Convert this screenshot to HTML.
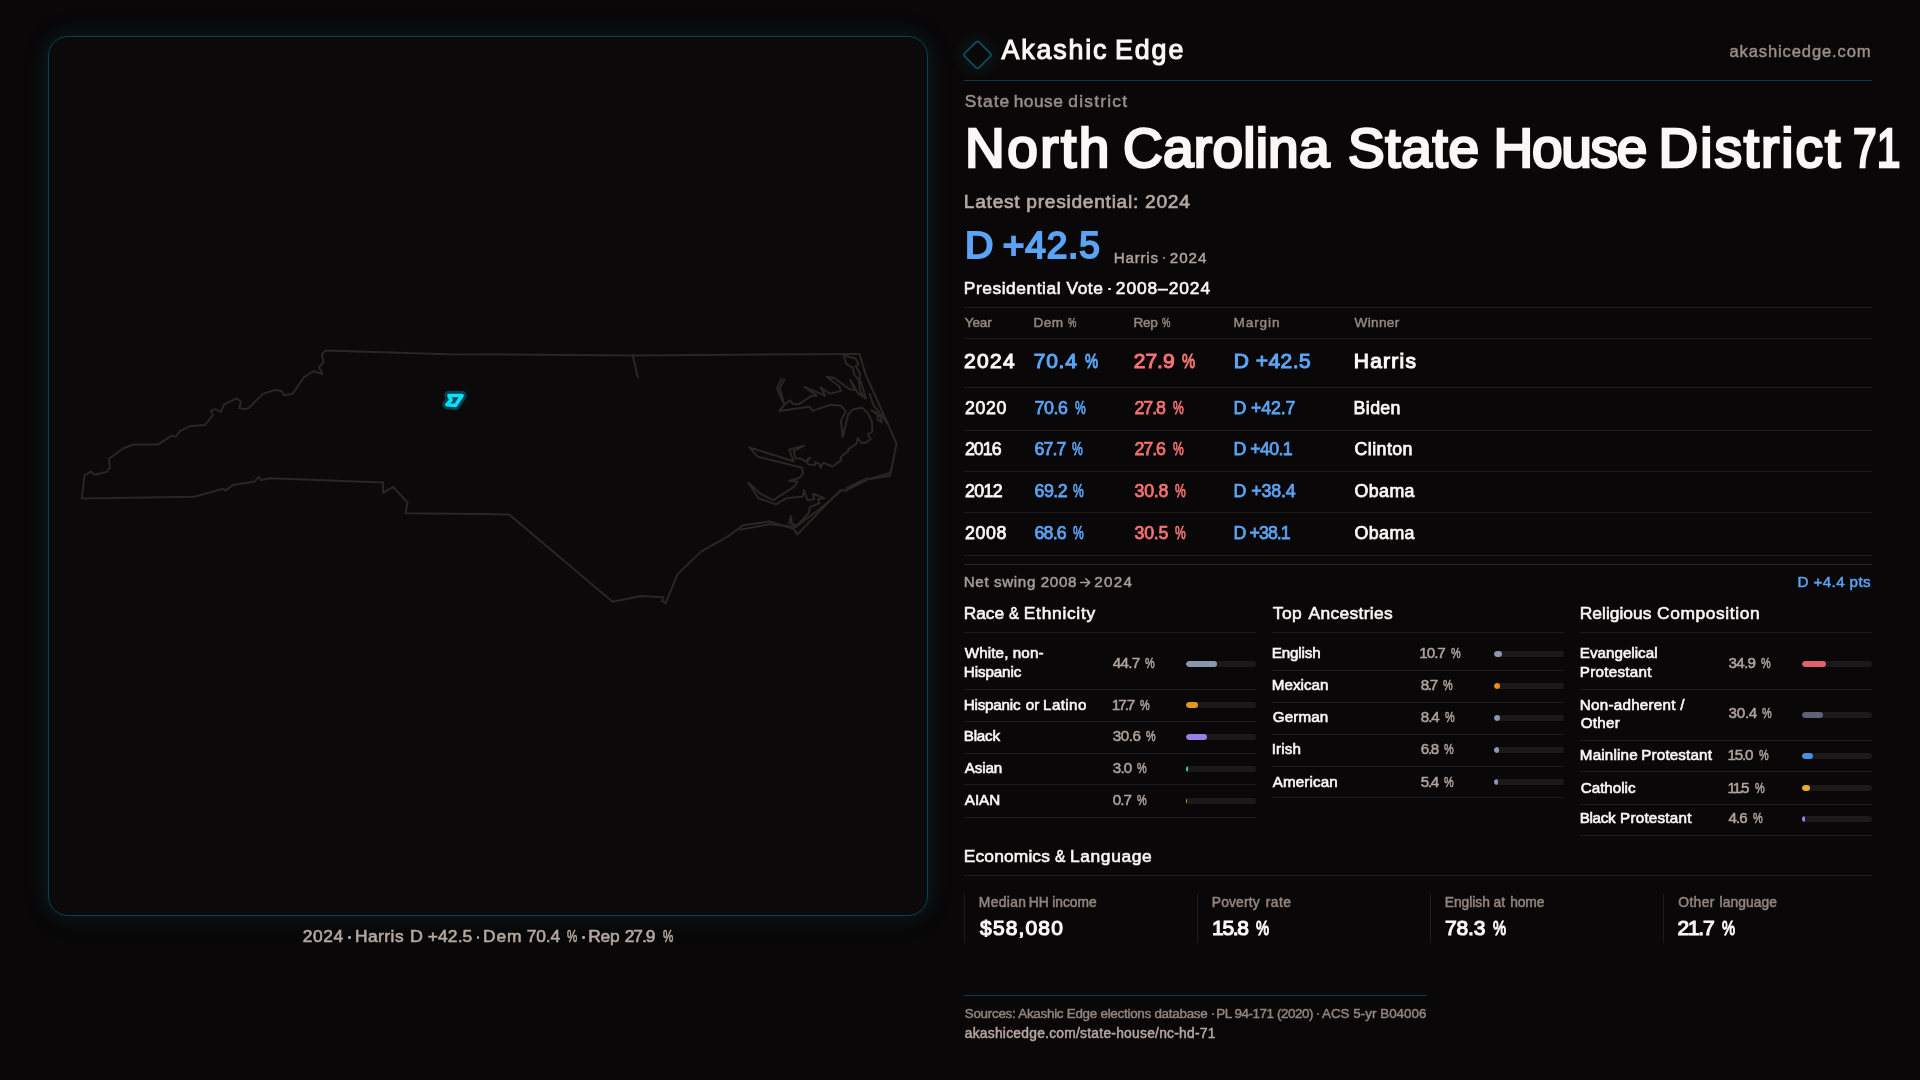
<!DOCTYPE html>
<html lang="en"><head><meta charset="utf-8"><title>North Carolina State House District 71</title>
<style>
html,body{margin:0;padding:0;}
body{width:1920px;height:1080px;overflow:hidden;background:#090708;font-family:"Liberation Sans",sans-serif;position:relative;}
.t{position:absolute;white-space:nowrap;line-height:1;font-weight:400;}
.r{position:absolute;}
.bt{position:absolute;width:70px;height:6px;border-radius:3px;background:#1b191a;overflow:hidden;}
.bf{height:6px;border-radius:3px;}
#panel{position:absolute;left:48px;top:36px;width:878px;height:878px;border:1px solid #0b4250;border-radius:20px;background:#0b090a;box-shadow:0 0 24px rgba(20,120,140,0.21);}
#tx{position:absolute;left:0;top:0;width:1920px;height:1080px;will-change:transform;}
#map{position:absolute;left:0;top:0;width:1920px;height:1080px;}
</style></head>
<body>
<div id="panel"></div>
<svg id="map" viewBox="0 0 1920 1080" width="1920" height="1080">
<path fill="none" stroke="#2a2625" stroke-width="2.0" stroke-linejoin="round" stroke-linecap="round" d="M859.4 353.9 L633.0 355.4 L447.8 354.2 L325.1 350.6 L321.9 354.7 L323.5 362.1 L319.0 367.1 L322.4 374.0 L313.9 371.2 L304.1 377.0 L292.6 393.7 L283.9 395.3 L281.6 391.2 L275.4 389.8 L262.8 393.9 L248.6 408.1 L244.5 409.3 L239.2 408.1 L241.0 401.7 L236.5 398.3 L223.9 404.5 L221.1 411.8 L215.1 409.1 L210.6 410.9 L213.1 415.2 L204.8 425.1 L189.5 426.3 L180.3 430.8 L175.7 436.6 L171.6 435.6 L157.9 444.6 L132.9 444.6 L123.0 448.5 L108.8 459.0 L110.0 468.2 L106.5 472.1 L94.4 474.8 L90.9 471.6 L84.5 475.5 L81.8 498.4 L194.1 496.8 L223.2 488.8 L225.5 490.6 L233.0 484.9 L254.8 481.5 L258.9 476.7 L261.2 480.1 L270.4 478.3 L383.1 482.4 L383.1 492.9 L393.0 486.8 L407.6 502.6 L405.6 513.3 L480.0 513.9 L509.2 514.4 L612.5 601.7 L641.1 596.1 L663.3 597.2 L661.9 600.8 L665.6 603.1 L677.8 573.9 L701.4 551.4 L727.2 536.9 L742.5 525.8 L742.8 525.2 L769.6 521.5 L793.7 528.9 L797.4 534.4 L840.0 490.4 L842.8 490.0 L845.6 490.9 L867.8 479.3"/>
<path fill="none" stroke="#2a2625" stroke-width="2.0" stroke-linejoin="round" stroke-linecap="round" d="M869.6 478.9 L890.0 476.1 L896.5 443.7 L888.1 424.3 L865.9 375.2 L859.4 353.9"/>
<path fill="none" stroke="#2a2625" stroke-width="2.0" stroke-linejoin="round" stroke-linecap="round" d="M740.0 529.8 L769.6 524.3 L795.6 527.0 L817.8 510.4 L840.0 491.9"/>
<path fill="none" stroke="#2a2625" stroke-width="2.0" stroke-linejoin="round" stroke-linecap="round" d="M846.5 488.1 L867.8 478.0"/>
<path fill="none" stroke="#2a2625" stroke-width="2.0" stroke-linejoin="round" stroke-linecap="round" d="M869.6 478.9 L890.0 473.0 L891.5 467.8"/>
<path fill="none" stroke="#2a2625" stroke-width="2.0" stroke-linejoin="round" stroke-linecap="round" d="M781.7 378.3 L777.0 388.1 L782.6 401.1 L784.4 404.8 L779.3 410.9 L809.4 406.7 L812.6 410.9 L830.7 404.8 L840.9 405.7 L845.9 411.3 L840.9 420.6 L842.8 437.2 L848.3 414.1 L853.0 409.4 L862.2 407.6 L867.8 413.1 L871.9 421.5 L872.4 431.7 L867.8 434.4 L870.6 439.1 L865.9 442.8 L861.3 442.8 L857.6 438.1 L856.7 443.7 L848.3 449.3 L848.3 451.1 L840.9 456.7 L840.9 460.4 L832.6 466.5 L823.3 462.6 L820.6 467.8 L819.6 464.1 L815.0 462.2 L815.0 465.0 L808.5 464.4 L807.0 462.2 L810.0 457.6 L804.8 461.3 L801.1 458.5 L795.6 458.5 L793.7 451.1 L803.9 445.6 L789.1 449.6 L793.7 461.3 L749.3 447.4 L757.6 456.7 L802.0 467.8 L803.0 473.3 L799.3 478.0 L789.1 480.7 L797.4 481.7 L794.6 486.3 L773.3 500.2 L760.4 493.7 L748.3 482.6 L758.5 498.3 L776.1 504.4 L786.3 498.3 L803.0 496.5 L803.9 490.0 L807.6 500.2 L814.1 499.3 L813.1 493.7 L824.3 498.3 L817.8 499.3 L819.6 503.0 L809.4 507.6 L809.4 512.2 L797.4 525.2 L791.9 524.3 L790.9 515.9 L789.1 523.3"/>
<path fill="none" stroke="#2a2625" stroke-width="2.0" stroke-linejoin="round" stroke-linecap="round" d="M784.4 379.3 L779.8 388.5 L784.4 404.8 L790.0 400.2 L792.8 403.9 L799.3 403.9 L810.4 396.5 L816.9 395.6 L804.4 386.9 L825.2 395.6 L820.6 387.2 L829.8 393.7 L840.9 390.9 L839.1 386.3 L826.7 376.7 L834.4 378.0 L849.3 389.1 L854.8 390.0 L850.2 379.8 L858.5 393.7 L865.9 398.3 L862.2 386.3 L859.4 377.0 L860.4 374.3 L855.7 365.9 L858.5 364.1 L855.7 358.5 L845.6 355.7"/>
<path fill="none" stroke="#2a2625" stroke-width="2.0" stroke-linejoin="round" stroke-linecap="round" d="M843.7 355.7 L846.5 364.1 L853.0 367.8 L853.9 374.3 L858.5 379.8 L860.4 391.9 L865.9 398.3"/>
<path fill="none" stroke="#2a2625" stroke-width="2.0" stroke-linejoin="round" stroke-linecap="round" d="M869.6 393.7 L873.3 404.8 L880.7 414.1 L888.1 424.3"/>
<path fill="none" stroke="#2a2625" stroke-width="2.0" stroke-linejoin="round" stroke-linecap="round" d="M871.5 410.4 L877.0 413.1 L878.0 419.6 L881.7 422.4 L880.7 416.9 L871.5 410.4"/>
<path fill="none" stroke="#2a2625" stroke-width="2.0" stroke-linejoin="round" stroke-linecap="round" d="M632.8 355.6 L637.8 377.2"/>
<path d="M449.0 395.5 L462.0 395.5 L455.5 405.5 L447.0 404.6 L451.0 400.0Z" fill="none" stroke="#0b3f4a" stroke-width="9.5" stroke-linejoin="round"/>
<path d="M449.0 395.5 L462.0 395.5 L455.5 405.5 L447.0 404.6 L451.0 400.0Z" fill="#0a4855" stroke="#06e2fd" stroke-width="3.7" stroke-linejoin="round"/>
<defs><radialGradient id="lg"><stop offset="0" stop-color="#16798c" stop-opacity="0.17"/><stop offset="0.45" stop-color="#16798c" stop-opacity="0.08"/><stop offset="1" stop-color="#16798c" stop-opacity="0"/></radialGradient></defs>
<circle cx="977.5" cy="54.9" r="26" fill="url(#lg)"/>
<rect x="-10.1" y="-10.1" width="20.2" height="20.2" rx="2.5" transform="translate(977.5 54.9) rotate(45)" fill="#090708" stroke="#0f4a58" stroke-width="1.9"/>
<path d="M1080.7 582.5 L1089.5 582.5 M1085.9 578.7 L1089.7 582.5 L1085.9 586.3" fill="none" stroke="#a89c96" stroke-width="1.6" stroke-linecap="round" stroke-linejoin="round"/>
</svg>
<div class="r" style="left:964px;top:80px;width:908px;height:1px;background:#083c49"></div>
<div class="r" style="left:964px;top:307px;width:908px;height:1px;background:#1e1b1c"></div>
<div class="r" style="left:964px;top:338px;width:908px;height:1px;background:#1e1b1c"></div>
<div class="r" style="left:964px;top:387px;width:908px;height:1px;background:#1e1b1c"></div>
<div class="r" style="left:964px;top:430px;width:908px;height:1px;background:#1e1b1c"></div>
<div class="r" style="left:964px;top:471px;width:908px;height:1px;background:#1e1b1c"></div>
<div class="r" style="left:964px;top:512px;width:908px;height:1px;background:#1e1b1c"></div>
<div class="r" style="left:964px;top:555px;width:908px;height:1px;background:#1e1b1c"></div>
<div class="r" style="left:964px;top:564px;width:908px;height:1px;background:#2a2728"></div>
<div class="r" style="left:964px;top:632px;width:292px;height:1px;background:#1e1b1c"></div>
<div class="r" style="left:1272px;top:632px;width:292px;height:1px;background:#1e1b1c"></div>
<div class="r" style="left:1580px;top:632px;width:292px;height:1px;background:#1e1b1c"></div>
<div class="r" style="left:964px;top:689px;width:292px;height:1px;background:#1e1b1c"></div>
<div class="r" style="left:964px;top:721px;width:292px;height:1px;background:#1e1b1c"></div>
<div class="r" style="left:964px;top:753px;width:292px;height:1px;background:#1e1b1c"></div>
<div class="r" style="left:964px;top:784px;width:292px;height:1px;background:#1e1b1c"></div>
<div class="r" style="left:964px;top:817px;width:292px;height:1px;background:#1e1b1c"></div>
<div class="r" style="left:1272px;top:670px;width:292px;height:1px;background:#1e1b1c"></div>
<div class="r" style="left:1272px;top:702px;width:292px;height:1px;background:#1e1b1c"></div>
<div class="r" style="left:1272px;top:734px;width:292px;height:1px;background:#1e1b1c"></div>
<div class="r" style="left:1272px;top:766px;width:292px;height:1px;background:#1e1b1c"></div>
<div class="r" style="left:1272px;top:797px;width:292px;height:1px;background:#1e1b1c"></div>
<div class="r" style="left:1580px;top:689px;width:292px;height:1px;background:#1e1b1c"></div>
<div class="r" style="left:1580px;top:740px;width:292px;height:1px;background:#1e1b1c"></div>
<div class="r" style="left:1580px;top:771px;width:292px;height:1px;background:#1e1b1c"></div>
<div class="r" style="left:1580px;top:804px;width:292px;height:1px;background:#1e1b1c"></div>
<div class="r" style="left:1580px;top:835px;width:292px;height:1px;background:#1e1b1c"></div>
<div class="r" style="left:964px;top:875px;width:908px;height:1px;background:#1e1b1c"></div>
<div class="r" style="left:964px;top:995px;width:463px;height:1px;background:#083c49"></div>
<div class="r" style="left:964px;top:894px;width:1px;height:49px;background:#1e1b1c"></div>
<div class="r" style="left:1197px;top:894px;width:1px;height:49px;background:#1e1b1c"></div>
<div class="r" style="left:1430px;top:894px;width:1px;height:49px;background:#1e1b1c"></div>
<div class="r" style="left:1663px;top:894px;width:1px;height:49px;background:#1e1b1c"></div>
<div class="r" style="left:1162.75px;top:257.15px;width:2.3px;height:2.3px;border-radius:50%;background:#b0a39d"></div>
<div class="r" style="left:1108.20px;top:287.50px;width:2.6px;height:2.6px;border-radius:50%;background:#faf8f6"></div>
<div class="r" style="left:1211.60px;top:1012.80px;width:2.0px;height:2.0px;border-radius:50%;background:#93867f"></div>
<div class="r" style="left:1316.60px;top:1012.80px;width:2.0px;height:2.0px;border-radius:50%;background:#93867f"></div>
<div class="r" style="left:348.10px;top:936.20px;width:2.6px;height:2.6px;border-radius:50%;background:#b5a8a2"></div>
<div class="r" style="left:476.80px;top:936.20px;width:2.6px;height:2.6px;border-radius:50%;background:#b5a8a2"></div>
<div class="r" style="left:582.00px;top:936.20px;width:2.6px;height:2.6px;border-radius:50%;background:#b5a8a2"></div>
<div class="bt" style="left:1186px;top:661px"><div class="bf" style="width:31.3px;background:#8a97ad"></div></div>
<div class="bt" style="left:1186px;top:702px"><div class="bf" style="width:12.4px;background:#e39a1c"></div></div>
<div class="bt" style="left:1186px;top:734px"><div class="bf" style="width:21.4px;background:#9a7fe6"></div></div>
<div class="bt" style="left:1186px;top:766px"><div class="bf" style="width:2.1px;background:#34d399"></div></div>
<div class="bt" style="left:1186px;top:798px"><div class="bf" style="width:1.0px;background:#e8920c"></div></div>
<div class="bt" style="left:1494px;top:651px"><div class="bf" style="width:7.5px;background:#8a97ad"></div></div>
<div class="bt" style="left:1494px;top:683px"><div class="bf" style="width:6.1px;background:#e8920c"></div></div>
<div class="bt" style="left:1494px;top:715px"><div class="bf" style="width:5.9px;background:#8a97ad"></div></div>
<div class="bt" style="left:1494px;top:747px"><div class="bf" style="width:4.8px;background:#8a97ad"></div></div>
<div class="bt" style="left:1494px;top:779px"><div class="bf" style="width:3.8px;background:#8a97ad"></div></div>
<div class="bt" style="left:1802px;top:661px"><div class="bf" style="width:24.4px;background:#e0606c"></div></div>
<div class="bt" style="left:1802px;top:712px"><div class="bf" style="width:21.3px;background:#5d6372"></div></div>
<div class="bt" style="left:1802px;top:753px"><div class="bf" style="width:10.5px;background:#4a8fe0"></div></div>
<div class="bt" style="left:1802px;top:785px"><div class="bf" style="width:8.1px;background:#e3ae22"></div></div>
<div class="bt" style="left:1802px;top:816px"><div class="bf" style="width:3.2px;background:#9a7fe6"></div></div>
<div id="tx">
<div class="t" style="left:1001.55px;top:37.00px;font-size:26.8px;color:#faf8f6;letter-spacing:1.828px;-webkit-text-stroke:1.1px #faf8f6;">Akashic</div>
<div class="t" style="left:1114.95px;top:37.00px;font-size:26.8px;color:#faf8f6;letter-spacing:1.940px;-webkit-text-stroke:1.1px #faf8f6;">Edge</div>
<div class="t" style="left:1729.47px;top:44.00px;font-size:16.6px;color:#9a8e89;letter-spacing:0.856px;-webkit-text-stroke:0.45px #9a8e89;">akashicedge.com</div>
<div class="t" style="left:964.75px;top:93.00px;font-size:17.4px;color:#9a8e89;letter-spacing:0.954px;-webkit-text-stroke:0.5px #9a8e89;">State</div>
<div class="t" style="left:1013.75px;top:93.00px;font-size:17.4px;color:#9a8e89;letter-spacing:0.447px;-webkit-text-stroke:0.5px #9a8e89;">house</div>
<div class="t" style="left:1068.25px;top:93.00px;font-size:17.4px;color:#9a8e89;letter-spacing:1.227px;-webkit-text-stroke:0.5px #9a8e89;">district</div>
<div class="t" style="left:965.00px;top:121.00px;font-size:55.0px;color:#faf8f6;letter-spacing:2.449px;-webkit-text-stroke:2.6px #faf8f6;">North</div>
<div class="t" style="left:1123.05px;top:121.00px;font-size:55.0px;color:#faf8f6;letter-spacing:0.237px;-webkit-text-stroke:2.6px #faf8f6;">Carolina</div>
<div class="t" style="left:1348.05px;top:121.00px;font-size:55.0px;color:#faf8f6;letter-spacing:0.641px;-webkit-text-stroke:2.6px #faf8f6;">State</div>
<div class="t" style="left:1493.55px;top:121.00px;font-size:55.0px;color:#faf8f6;letter-spacing:-1.311px;-webkit-text-stroke:2.6px #faf8f6;">House</div>
<div class="t" style="left:1658.55px;top:121.00px;font-size:55.0px;color:#faf8f6;letter-spacing:1.949px;-webkit-text-stroke:2.6px #faf8f6;">District</div>
<div class="t" style="left:1853.21px;top:121.00px;font-size:55.0px;color:#faf8f6;transform:scaleX(0.773);transform-origin:0 0;-webkit-text-stroke:2.6px #faf8f6;">71</div>
<div class="t" style="left:963.85px;top:192.00px;font-size:19.2px;color:#b5a8a2;letter-spacing:0.704px;-webkit-text-stroke:0.7px #b5a8a2;">Latest presidential: 2024</div>
<div class="t" style="left:964.77px;top:227.00px;font-size:37.0px;color:#5ba4f5;transform:scaleX(1.062);transform-origin:0 0;-webkit-text-stroke:2.0px #5ba4f5;">D</div>
<div class="t" style="left:1002.80px;top:227.00px;font-size:37.0px;color:#5ba4f5;letter-spacing:0.839px;-webkit-text-stroke:2.0px #5ba4f5;">+42.5</div>
<div class="t" style="left:1113.72px;top:250.00px;font-size:15.2px;color:#b0a39d;letter-spacing:0.779px;-webkit-text-stroke:0.45px #b0a39d;">Harris</div>
<div class="t" style="left:1169.72px;top:250.00px;font-size:15.2px;color:#b0a39d;letter-spacing:0.987px;-webkit-text-stroke:0.45px #b0a39d;">2024</div>
<div class="t" style="left:963.80px;top:280.00px;font-size:17.4px;color:#faf8f6;letter-spacing:0.536px;-webkit-text-stroke:0.6px #faf8f6;">Presidential</div>
<div class="t" style="left:1066.55px;top:280.00px;font-size:17.4px;color:#faf8f6;letter-spacing:0.502px;-webkit-text-stroke:0.6px #faf8f6;">Vote</div>
<div class="t" style="left:1115.80px;top:280.00px;font-size:17.4px;color:#faf8f6;letter-spacing:0.909px;-webkit-text-stroke:0.6px #faf8f6;">2008–2024</div>
<div class="t" style="left:964.75px;top:316.00px;font-size:13.6px;color:#93867f;letter-spacing:-0.146px;-webkit-text-stroke:0.5px #93867f;">Year</div>
<div class="t" style="left:1033.50px;top:316.00px;font-size:13.6px;color:#93867f;letter-spacing:0.408px;-webkit-text-stroke:0.5px #93867f;">Dem</div>
<div class="t" style="left:1067.74px;top:316.00px;font-size:13.6px;color:#93867f;transform:scaleX(0.695);transform-origin:0 0;-webkit-text-stroke:0.5px #93867f;">%</div>
<div class="t" style="left:1133.50px;top:316.00px;font-size:13.6px;color:#93867f;letter-spacing:-0.342px;-webkit-text-stroke:0.5px #93867f;">Rep</div>
<div class="t" style="left:1162.24px;top:316.00px;font-size:13.6px;color:#93867f;transform:scaleX(0.695);transform-origin:0 0;-webkit-text-stroke:0.5px #93867f;">%</div>
<div class="t" style="left:1233.50px;top:316.00px;font-size:13.6px;color:#93867f;letter-spacing:0.902px;-webkit-text-stroke:0.5px #93867f;">Margin</div>
<div class="t" style="left:1354.50px;top:316.00px;font-size:13.6px;color:#93867f;letter-spacing:0.344px;-webkit-text-stroke:0.5px #93867f;">Winner</div>
<div class="t" style="left:964.05px;top:350.00px;font-size:21.0px;color:#faf8f6;letter-spacing:1.287px;-webkit-text-stroke:1.1px #faf8f6;">2024</div>
<div class="t" style="left:1033.80px;top:350.00px;font-size:21.0px;color:#5ba4f5;letter-spacing:0.720px;-webkit-text-stroke:1.1px #5ba4f5;">70.4</div>
<div class="t" style="left:1085.23px;top:350.00px;font-size:21.0px;color:#5ba4f5;transform:scaleX(0.702);transform-origin:0 0;-webkit-text-stroke:1.1px #5ba4f5;">%</div>
<div class="t" style="left:1133.80px;top:350.00px;font-size:21.0px;color:#f47272;letter-spacing:-0.030px;-webkit-text-stroke:1.1px #f47272;">27.9</div>
<div class="t" style="left:1181.98px;top:350.00px;font-size:21.0px;color:#f47272;transform:scaleX(0.702);transform-origin:0 0;-webkit-text-stroke:1.1px #f47272;">%</div>
<div class="t" style="left:1233.80px;top:350.00px;font-size:21.0px;color:#5ba4f5;letter-spacing:0.449px;-webkit-text-stroke:1.1px #5ba4f5;">D +42.5</div>
<div class="t" style="left:1353.80px;top:350.00px;font-size:21.0px;color:#faf8f6;letter-spacing:1.231px;-webkit-text-stroke:1.1px #faf8f6;">Harris</div>
<div class="t" style="left:964.88px;top:400.00px;font-size:17.8px;color:#faf8f6;letter-spacing:0.694px;-webkit-text-stroke:0.75px #faf8f6;">2020</div>
<div class="t" style="left:1034.62px;top:400.00px;font-size:17.8px;color:#5ba4f5;letter-spacing:-0.462px;-webkit-text-stroke:0.75px #5ba4f5;">70.6</div>
<div class="t" style="left:1074.64px;top:400.00px;font-size:17.8px;color:#5ba4f5;transform:scaleX(0.679);transform-origin:0 0;-webkit-text-stroke:0.75px #5ba4f5;">%</div>
<div class="t" style="left:1134.62px;top:400.00px;font-size:17.8px;color:#f47272;letter-spacing:-1.129px;-webkit-text-stroke:0.75px #f47272;">27.8</div>
<div class="t" style="left:1172.64px;top:400.00px;font-size:17.8px;color:#f47272;transform:scaleX(0.679);transform-origin:0 0;-webkit-text-stroke:0.75px #f47272;">%</div>
<div class="t" style="left:1233.62px;top:400.00px;font-size:17.8px;color:#5ba4f5;letter-spacing:-0.147px;-webkit-text-stroke:0.75px #5ba4f5;">D +42.7</div>
<div class="t" style="left:1353.62px;top:400.00px;font-size:17.8px;color:#faf8f6;letter-spacing:0.353px;-webkit-text-stroke:0.75px #faf8f6;">Biden</div>
<div class="t" style="left:964.88px;top:441.00px;font-size:17.8px;color:#faf8f6;letter-spacing:-0.972px;-webkit-text-stroke:0.75px #faf8f6;">2016</div>
<div class="t" style="left:1034.62px;top:441.00px;font-size:17.8px;color:#5ba4f5;letter-spacing:-0.962px;-webkit-text-stroke:0.75px #5ba4f5;">67.7</div>
<div class="t" style="left:1072.14px;top:441.00px;font-size:17.8px;color:#5ba4f5;transform:scaleX(0.679);transform-origin:0 0;-webkit-text-stroke:0.75px #5ba4f5;">%</div>
<div class="t" style="left:1134.62px;top:441.00px;font-size:17.8px;color:#f47272;letter-spacing:-1.129px;-webkit-text-stroke:0.75px #f47272;">27.6</div>
<div class="t" style="left:1172.64px;top:441.00px;font-size:17.8px;color:#f47272;transform:scaleX(0.679);transform-origin:0 0;-webkit-text-stroke:0.75px #f47272;">%</div>
<div class="t" style="left:1233.62px;top:441.00px;font-size:17.8px;color:#5ba4f5;letter-spacing:-0.606px;-webkit-text-stroke:0.75px #5ba4f5;">D +40.1</div>
<div class="t" style="left:1354.62px;top:441.00px;font-size:17.8px;color:#faf8f6;letter-spacing:0.423px;-webkit-text-stroke:0.75px #faf8f6;">Clinton</div>
<div class="t" style="left:964.88px;top:483.00px;font-size:17.8px;color:#faf8f6;letter-spacing:-0.639px;-webkit-text-stroke:0.75px #faf8f6;">2012</div>
<div class="t" style="left:1034.62px;top:483.00px;font-size:17.8px;color:#5ba4f5;letter-spacing:-0.545px;-webkit-text-stroke:0.75px #5ba4f5;">69.2</div>
<div class="t" style="left:1073.39px;top:483.00px;font-size:17.8px;color:#5ba4f5;transform:scaleX(0.679);transform-origin:0 0;-webkit-text-stroke:0.75px #5ba4f5;">%</div>
<div class="t" style="left:1134.62px;top:483.00px;font-size:17.8px;color:#f47272;letter-spacing:-0.295px;-webkit-text-stroke:0.75px #f47272;">30.8</div>
<div class="t" style="left:1175.14px;top:483.00px;font-size:17.8px;color:#f47272;transform:scaleX(0.679);transform-origin:0 0;-webkit-text-stroke:0.75px #f47272;">%</div>
<div class="t" style="left:1233.62px;top:483.00px;font-size:17.8px;color:#5ba4f5;letter-spacing:-0.106px;-webkit-text-stroke:0.75px #5ba4f5;">D +38.4</div>
<div class="t" style="left:1354.62px;top:483.00px;font-size:17.8px;color:#faf8f6;letter-spacing:0.395px;-webkit-text-stroke:0.75px #faf8f6;">Obama</div>
<div class="t" style="left:964.88px;top:525.00px;font-size:17.8px;color:#faf8f6;letter-spacing:0.694px;-webkit-text-stroke:0.75px #faf8f6;">2008</div>
<div class="t" style="left:1034.62px;top:525.00px;font-size:17.8px;color:#5ba4f5;letter-spacing:-0.879px;-webkit-text-stroke:0.75px #5ba4f5;">68.6</div>
<div class="t" style="left:1073.39px;top:525.00px;font-size:17.8px;color:#5ba4f5;transform:scaleX(0.679);transform-origin:0 0;-webkit-text-stroke:0.75px #5ba4f5;">%</div>
<div class="t" style="left:1134.62px;top:525.00px;font-size:17.8px;color:#f47272;letter-spacing:-0.295px;-webkit-text-stroke:0.75px #f47272;">30.5</div>
<div class="t" style="left:1175.14px;top:525.00px;font-size:17.8px;color:#f47272;transform:scaleX(0.679);transform-origin:0 0;-webkit-text-stroke:0.75px #f47272;">%</div>
<div class="t" style="left:1233.62px;top:525.00px;font-size:17.8px;color:#5ba4f5;letter-spacing:-0.939px;-webkit-text-stroke:0.75px #5ba4f5;">D +38.1</div>
<div class="t" style="left:1354.62px;top:525.00px;font-size:17.8px;color:#faf8f6;letter-spacing:0.395px;-webkit-text-stroke:0.75px #faf8f6;">Obama</div>
<div class="t" style="left:963.75px;top:574.00px;font-size:15.2px;color:#a89c96;letter-spacing:0.616px;-webkit-text-stroke:0.5px #a89c96;">Net swing 2008</div>
<div class="t" style="left:1094.25px;top:574.00px;font-size:15.2px;color:#a89c96;letter-spacing:1.303px;-webkit-text-stroke:0.5px #a89c96;">2024</div>
<div class="t" style="left:1797.50px;top:574.00px;font-size:15.2px;color:#5ba4f5;letter-spacing:0.383px;-webkit-text-stroke:0.5px #5ba4f5;">D +4.4 pts</div>
<div class="t" style="left:963.80px;top:605.00px;font-size:17.4px;color:#faf8f6;letter-spacing:-0.092px;-webkit-text-stroke:0.6px #faf8f6;">Race</div>
<div class="t" style="left:1009.01px;top:605.00px;font-size:17.4px;color:#faf8f6;transform:scaleX(0.853);transform-origin:0 0;-webkit-text-stroke:0.6px #faf8f6;">&amp;</div>
<div class="t" style="left:1023.80px;top:605.00px;font-size:17.4px;color:#faf8f6;letter-spacing:0.703px;-webkit-text-stroke:0.6px #faf8f6;">Ethnicity</div>
<div class="t" style="left:1272.80px;top:605.00px;font-size:17.4px;color:#faf8f6;letter-spacing:0.392px;-webkit-text-stroke:0.6px #faf8f6;">Top</div>
<div class="t" style="left:1308.55px;top:605.00px;font-size:17.4px;color:#faf8f6;letter-spacing:0.323px;-webkit-text-stroke:0.6px #faf8f6;">Ancestries</div>
<div class="t" style="left:1579.80px;top:605.00px;font-size:17.4px;color:#faf8f6;letter-spacing:0.008px;-webkit-text-stroke:0.6px #faf8f6;">Religious</div>
<div class="t" style="left:1657.05px;top:605.00px;font-size:17.4px;color:#faf8f6;letter-spacing:0.591px;-webkit-text-stroke:0.6px #faf8f6;">Composition</div>
<div class="t" style="left:964.81px;top:645.00px;font-size:15.2px;color:#faf8f6;letter-spacing:0.103px;-webkit-text-stroke:0.62px #faf8f6;">White, non-</div>
<div class="t" style="left:963.81px;top:664.00px;font-size:15.2px;color:#faf8f6;letter-spacing:-0.110px;-webkit-text-stroke:0.62px #faf8f6;">Hispanic</div>
<div class="t" style="left:1112.76px;top:655.00px;font-size:15.2px;color:#b0a39d;letter-spacing:-0.669px;-webkit-text-stroke:0.52px #b0a39d;">44.7</div>
<div class="t" style="left:1145.48px;top:655.00px;font-size:15.2px;color:#b0a39d;transform:scaleX(0.718);transform-origin:0 0;-webkit-text-stroke:0.52px #b0a39d;">%</div>
<div class="t" style="left:963.81px;top:697.00px;font-size:15.2px;color:#faf8f6;letter-spacing:-0.217px;-webkit-text-stroke:0.62px #faf8f6;">Hispanic</div>
<div class="t" style="left:1025.81px;top:697.00px;font-size:15.2px;color:#faf8f6;letter-spacing:-0.067px;-webkit-text-stroke:0.62px #faf8f6;">or</div>
<div class="t" style="left:1043.06px;top:697.00px;font-size:15.2px;color:#faf8f6;letter-spacing:0.389px;-webkit-text-stroke:0.62px #faf8f6;">Latino</div>
<div class="t" style="left:1111.76px;top:697.00px;font-size:15.2px;color:#b0a39d;letter-spacing:-2.002px;-webkit-text-stroke:0.52px #b0a39d;">17.7</div>
<div class="t" style="left:1140.48px;top:697.00px;font-size:15.2px;color:#b0a39d;transform:scaleX(0.718);transform-origin:0 0;-webkit-text-stroke:0.52px #b0a39d;">%</div>
<div class="t" style="left:963.81px;top:728.00px;font-size:15.2px;color:#faf8f6;letter-spacing:-0.229px;-webkit-text-stroke:0.62px #faf8f6;">Black</div>
<div class="t" style="left:1112.76px;top:728.00px;font-size:15.2px;color:#b0a39d;letter-spacing:-0.419px;-webkit-text-stroke:0.52px #b0a39d;">30.6</div>
<div class="t" style="left:1146.23px;top:728.00px;font-size:15.2px;color:#b0a39d;transform:scaleX(0.718);transform-origin:0 0;-webkit-text-stroke:0.52px #b0a39d;">%</div>
<div class="t" style="left:964.81px;top:760.00px;font-size:15.2px;color:#faf8f6;letter-spacing:-0.166px;-webkit-text-stroke:0.62px #faf8f6;">Asian</div>
<div class="t" style="left:1112.76px;top:760.00px;font-size:15.2px;color:#b0a39d;letter-spacing:-0.780px;-webkit-text-stroke:0.52px #b0a39d;">3.0</div>
<div class="t" style="left:1137.48px;top:760.00px;font-size:15.2px;color:#b0a39d;transform:scaleX(0.718);transform-origin:0 0;-webkit-text-stroke:0.52px #b0a39d;">%</div>
<div class="t" style="left:964.81px;top:792.00px;font-size:15.2px;color:#faf8f6;letter-spacing:-0.033px;-webkit-text-stroke:0.62px #faf8f6;">AIAN</div>
<div class="t" style="left:1112.76px;top:792.00px;font-size:15.2px;color:#b0a39d;letter-spacing:-0.905px;-webkit-text-stroke:0.52px #b0a39d;">0.7</div>
<div class="t" style="left:1137.23px;top:792.00px;font-size:15.2px;color:#b0a39d;transform:scaleX(0.718);transform-origin:0 0;-webkit-text-stroke:0.52px #b0a39d;">%</div>
<div class="t" style="left:1271.81px;top:645.00px;font-size:15.2px;color:#faf8f6;letter-spacing:-0.164px;-webkit-text-stroke:0.62px #faf8f6;">English</div>
<div class="t" style="left:1419.26px;top:645.00px;font-size:15.2px;color:#b0a39d;letter-spacing:-1.002px;-webkit-text-stroke:0.52px #b0a39d;">10.7</div>
<div class="t" style="left:1450.98px;top:645.00px;font-size:15.2px;color:#b0a39d;transform:scaleX(0.718);transform-origin:0 0;-webkit-text-stroke:0.52px #b0a39d;">%</div>
<div class="t" style="left:1271.81px;top:677.00px;font-size:15.2px;color:#faf8f6;letter-spacing:0.004px;-webkit-text-stroke:0.62px #faf8f6;">Mexican</div>
<div class="t" style="left:1420.76px;top:677.00px;font-size:15.2px;color:#b0a39d;letter-spacing:-1.780px;-webkit-text-stroke:0.52px #b0a39d;">8.7</div>
<div class="t" style="left:1443.48px;top:677.00px;font-size:15.2px;color:#b0a39d;transform:scaleX(0.718);transform-origin:0 0;-webkit-text-stroke:0.52px #b0a39d;">%</div>
<div class="t" style="left:1272.81px;top:709.00px;font-size:15.2px;color:#faf8f6;letter-spacing:0.093px;-webkit-text-stroke:0.62px #faf8f6;">German</div>
<div class="t" style="left:1420.76px;top:709.00px;font-size:15.2px;color:#b0a39d;letter-spacing:-1.030px;-webkit-text-stroke:0.52px #b0a39d;">8.4</div>
<div class="t" style="left:1444.98px;top:709.00px;font-size:15.2px;color:#b0a39d;transform:scaleX(0.718);transform-origin:0 0;-webkit-text-stroke:0.52px #b0a39d;">%</div>
<div class="t" style="left:1271.81px;top:741.00px;font-size:15.2px;color:#faf8f6;letter-spacing:0.096px;-webkit-text-stroke:0.62px #faf8f6;">Irish</div>
<div class="t" style="left:1420.76px;top:741.00px;font-size:15.2px;color:#b0a39d;letter-spacing:-1.280px;-webkit-text-stroke:0.52px #b0a39d;">6.8</div>
<div class="t" style="left:1444.48px;top:741.00px;font-size:15.2px;color:#b0a39d;transform:scaleX(0.718);transform-origin:0 0;-webkit-text-stroke:0.52px #b0a39d;">%</div>
<div class="t" style="left:1272.81px;top:774.00px;font-size:15.2px;color:#faf8f6;letter-spacing:0.097px;-webkit-text-stroke:0.62px #faf8f6;">American</div>
<div class="t" style="left:1420.76px;top:774.00px;font-size:15.2px;color:#b0a39d;letter-spacing:-1.280px;-webkit-text-stroke:0.52px #b0a39d;">5.4</div>
<div class="t" style="left:1444.48px;top:774.00px;font-size:15.2px;color:#b0a39d;transform:scaleX(0.718);transform-origin:0 0;-webkit-text-stroke:0.52px #b0a39d;">%</div>
<div class="t" style="left:1579.81px;top:645.00px;font-size:15.2px;color:#faf8f6;letter-spacing:0.008px;-webkit-text-stroke:0.62px #faf8f6;">Evangelical</div>
<div class="t" style="left:1579.81px;top:664.00px;font-size:15.2px;color:#faf8f6;letter-spacing:0.264px;-webkit-text-stroke:0.62px #faf8f6;">Protestant</div>
<div class="t" style="left:1728.51px;top:655.00px;font-size:15.2px;color:#b0a39d;letter-spacing:-0.669px;-webkit-text-stroke:0.52px #b0a39d;">34.9</div>
<div class="t" style="left:1761.23px;top:655.00px;font-size:15.2px;color:#b0a39d;transform:scaleX(0.718);transform-origin:0 0;-webkit-text-stroke:0.52px #b0a39d;">%</div>
<div class="t" style="left:1579.81px;top:697.00px;font-size:15.2px;color:#faf8f6;letter-spacing:0.253px;-webkit-text-stroke:0.62px #faf8f6;">Non-adherent /</div>
<div class="t" style="left:1580.81px;top:715.00px;font-size:15.2px;color:#faf8f6;letter-spacing:0.238px;-webkit-text-stroke:0.62px #faf8f6;">Other</div>
<div class="t" style="left:1728.51px;top:705.00px;font-size:15.2px;color:#b0a39d;letter-spacing:-0.252px;-webkit-text-stroke:0.52px #b0a39d;">30.4</div>
<div class="t" style="left:1762.48px;top:705.00px;font-size:15.2px;color:#b0a39d;transform:scaleX(0.718);transform-origin:0 0;-webkit-text-stroke:0.52px #b0a39d;">%</div>
<div class="t" style="left:1579.81px;top:747.00px;font-size:15.2px;color:#faf8f6;letter-spacing:0.181px;-webkit-text-stroke:0.62px #faf8f6;">Mainline</div>
<div class="t" style="left:1641.31px;top:747.00px;font-size:15.2px;color:#faf8f6;letter-spacing:0.153px;-webkit-text-stroke:0.62px #faf8f6;">Protestant</div>
<div class="t" style="left:1727.51px;top:747.00px;font-size:15.2px;color:#b0a39d;letter-spacing:-1.169px;-webkit-text-stroke:0.52px #b0a39d;">15.0</div>
<div class="t" style="left:1758.73px;top:747.00px;font-size:15.2px;color:#b0a39d;transform:scaleX(0.718);transform-origin:0 0;-webkit-text-stroke:0.52px #b0a39d;">%</div>
<div class="t" style="left:1580.81px;top:780.00px;font-size:15.2px;color:#faf8f6;letter-spacing:-0.021px;-webkit-text-stroke:0.62px #faf8f6;">Catholic</div>
<div class="t" style="left:1727.51px;top:780.00px;font-size:15.2px;color:#b0a39d;letter-spacing:-2.126px;-webkit-text-stroke:0.52px #b0a39d;">11.5</div>
<div class="t" style="left:1754.73px;top:780.00px;font-size:15.2px;color:#b0a39d;transform:scaleX(0.718);transform-origin:0 0;-webkit-text-stroke:0.52px #b0a39d;">%</div>
<div class="t" style="left:1579.81px;top:810.00px;font-size:15.2px;color:#faf8f6;letter-spacing:-0.354px;-webkit-text-stroke:0.62px #faf8f6;">Black</div>
<div class="t" style="left:1620.06px;top:810.00px;font-size:15.2px;color:#faf8f6;letter-spacing:0.236px;-webkit-text-stroke:0.62px #faf8f6;">Protestant</div>
<div class="t" style="left:1728.51px;top:810.00px;font-size:15.2px;color:#b0a39d;letter-spacing:-0.905px;-webkit-text-stroke:0.52px #b0a39d;">4.6</div>
<div class="t" style="left:1752.98px;top:810.00px;font-size:15.2px;color:#b0a39d;transform:scaleX(0.718);transform-origin:0 0;-webkit-text-stroke:0.52px #b0a39d;">%</div>
<div class="t" style="left:963.80px;top:848.00px;font-size:17.4px;color:#faf8f6;letter-spacing:0.131px;-webkit-text-stroke:0.6px #faf8f6;">Economics</div>
<div class="t" style="left:1055.27px;top:848.00px;font-size:17.4px;color:#faf8f6;transform:scaleX(0.893);transform-origin:0 0;-webkit-text-stroke:0.6px #faf8f6;">&amp;</div>
<div class="t" style="left:1070.05px;top:848.00px;font-size:17.4px;color:#faf8f6;letter-spacing:0.600px;-webkit-text-stroke:0.6px #faf8f6;">Language</div>
<div class="t" style="left:978.75px;top:896.00px;font-size:13.8px;color:#93867f;letter-spacing:0.384px;-webkit-text-stroke:0.5px #93867f;">Median</div>
<div class="t" style="left:1028.75px;top:896.00px;font-size:13.8px;color:#93867f;letter-spacing:0.036px;-webkit-text-stroke:0.5px #93867f;">HH</div>
<div class="t" style="left:1052.25px;top:896.00px;font-size:13.8px;color:#93867f;letter-spacing:-0.011px;-webkit-text-stroke:0.5px #93867f;">income</div>
<div class="t" style="left:1211.75px;top:896.00px;font-size:13.8px;color:#93867f;letter-spacing:0.188px;-webkit-text-stroke:0.5px #93867f;">Poverty</div>
<div class="t" style="left:1265.75px;top:896.00px;font-size:13.8px;color:#93867f;letter-spacing:0.466px;-webkit-text-stroke:0.5px #93867f;">rate</div>
<div class="t" style="left:1444.75px;top:896.00px;font-size:13.8px;color:#93867f;letter-spacing:-0.013px;-webkit-text-stroke:0.5px #93867f;">English</div>
<div class="t" style="left:1493.50px;top:896.00px;font-size:13.8px;color:#93867f;letter-spacing:0.077px;-webkit-text-stroke:0.5px #93867f;">at</div>
<div class="t" style="left:1510.25px;top:896.00px;font-size:13.8px;color:#93867f;letter-spacing:-0.113px;-webkit-text-stroke:0.5px #93867f;">home</div>
<div class="t" style="left:1678.25px;top:896.00px;font-size:13.8px;color:#93867f;letter-spacing:0.397px;-webkit-text-stroke:0.5px #93867f;">Other</div>
<div class="t" style="left:1719.50px;top:896.00px;font-size:13.8px;color:#93867f;letter-spacing:0.092px;-webkit-text-stroke:0.5px #93867f;">language</div>
<div class="t" style="left:980.08px;top:917.00px;font-size:21.0px;color:#faf8f6;letter-spacing:1.145px;-webkit-text-stroke:1.15px #faf8f6;">$58,080</div>
<div class="t" style="left:1212.08px;top:917.00px;font-size:21.0px;color:#faf8f6;letter-spacing:-1.380px;-webkit-text-stroke:1.15px #faf8f6;">15.8</div>
<div class="t" style="left:1256.24px;top:917.00px;font-size:21.0px;color:#faf8f6;transform:scaleX(0.700);transform-origin:0 0;-webkit-text-stroke:1.15px #faf8f6;">%</div>
<div class="t" style="left:1445.08px;top:917.00px;font-size:21.0px;color:#faf8f6;letter-spacing:-0.214px;-webkit-text-stroke:1.15px #faf8f6;">78.3</div>
<div class="t" style="left:1492.74px;top:917.00px;font-size:21.0px;color:#faf8f6;transform:scaleX(0.700);transform-origin:0 0;-webkit-text-stroke:1.15px #faf8f6;">%</div>
<div class="t" style="left:1677.58px;top:917.00px;font-size:21.0px;color:#faf8f6;letter-spacing:-1.297px;-webkit-text-stroke:1.15px #faf8f6;">21.7</div>
<div class="t" style="left:1721.99px;top:917.00px;font-size:21.0px;color:#faf8f6;transform:scaleX(0.700);transform-origin:0 0;-webkit-text-stroke:1.15px #faf8f6;">%</div>
<div class="t" style="left:964.73px;top:1007.00px;font-size:13.4px;color:#93867f;letter-spacing:-0.259px;-webkit-text-stroke:0.45px #93867f;">Sources: Akashic Edge elections database</div>
<div class="t" style="left:1216.22px;top:1007.00px;font-size:13.4px;color:#93867f;letter-spacing:-0.431px;-webkit-text-stroke:0.45px #93867f;">PL 94-171 (2020)</div>
<div class="t" style="left:1321.97px;top:1007.00px;font-size:13.4px;color:#93867f;letter-spacing:0.021px;-webkit-text-stroke:0.45px #93867f;">ACS 5-yr B04006</div>
<div class="t" style="left:964.75px;top:1027.00px;font-size:13.8px;color:#b5a8a2;letter-spacing:0.260px;-webkit-text-stroke:0.5px #b5a8a2;">akashicedge.com/state-house/nc-hd-71</div>
<div class="t" style="left:302.80px;top:928.00px;font-size:17.4px;color:#b5a8a2;letter-spacing:0.545px;-webkit-text-stroke:0.6px #b5a8a2;">2024</div>
<div class="t" style="left:354.90px;top:928.00px;font-size:17.4px;color:#b5a8a2;letter-spacing:0.465px;-webkit-text-stroke:0.6px #b5a8a2;">Harris</div>
<div class="t" style="left:409.68px;top:928.00px;font-size:17.4px;color:#b5a8a2;transform:scaleX(1.026);transform-origin:0 0;-webkit-text-stroke:0.6px #b5a8a2;">D</div>
<div class="t" style="left:427.80px;top:928.00px;font-size:17.4px;color:#b5a8a2;letter-spacing:0.117px;-webkit-text-stroke:0.6px #b5a8a2;">+42.5</div>
<div class="t" style="left:483.05px;top:928.00px;font-size:17.4px;color:#b5a8a2;letter-spacing:0.835px;-webkit-text-stroke:0.6px #b5a8a2;">Dem</div>
<div class="t" style="left:526.80px;top:928.00px;font-size:17.4px;color:#b5a8a2;letter-spacing:-0.158px;-webkit-text-stroke:0.6px #b5a8a2;">70.4</div>
<div class="t" style="left:566.90px;top:928.00px;font-size:17.4px;color:#b5a8a2;transform:scaleX(0.667);transform-origin:0 0;-webkit-text-stroke:0.6px #b5a8a2;">%</div>
<div class="t" style="left:588.30px;top:928.00px;font-size:17.4px;color:#b5a8a2;letter-spacing:-0.315px;-webkit-text-stroke:0.6px #b5a8a2;">Rep</div>
<div class="t" style="left:624.70px;top:928.00px;font-size:17.4px;color:#b5a8a2;letter-spacing:-1.058px;-webkit-text-stroke:0.6px #b5a8a2;">27.9</div>
<div class="t" style="left:663.10px;top:928.00px;font-size:17.4px;color:#b5a8a2;transform:scaleX(0.667);transform-origin:0 0;-webkit-text-stroke:0.6px #b5a8a2;">%</div>
</div>
</body></html>
